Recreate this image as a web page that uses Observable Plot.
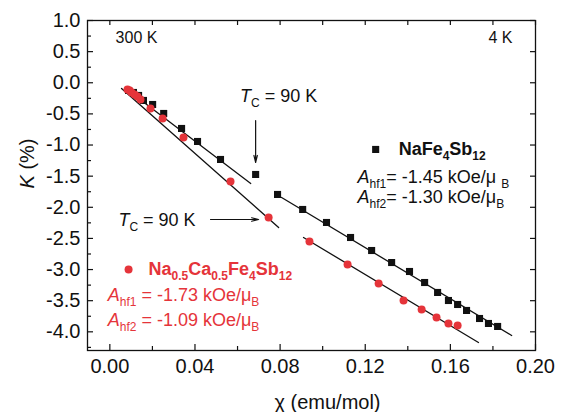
<!DOCTYPE html>
<html><head><meta charset="utf-8">
<script src="https://cdn.jsdelivr.net/npm/d3@7"></script>
<script src="https://cdn.jsdelivr.net/npm/@observablehq/plot@0.6"></script>
<style>body{margin:0;background:#fff}</style>
</head><body><div id="chart"></div>
<script>
// NaFe4Sb12 (black squares)
const naChi = [0.0088,0.0111,0.0135,0.0158,0.0201,0.0253,0.0337,0.0412,0.0520,0.0685,0.0788,0.0906,0.1018,0.1131,0.1230,0.1324,0.1408,0.1479,0.1540,0.1591,0.1634,0.1676,0.1737,0.1779,0.1822];
const naK   = [-0.124,-0.156,-0.204,-0.284,-0.349,-0.493,-0.734,-0.943,-1.232,-1.473,-1.794,-2.035,-2.244,-2.485,-2.694,-2.887,-3.031,-3.208,-3.368,-3.497,-3.561,-3.657,-3.786,-3.866,-3.914];
// Na0.5Ca0.5Fe4Sb12 (red circles)
const ncChi = [0.0083,0.0093,0.0102,0.0116,0.0130,0.0144,0.0191,0.0248,0.0346,0.0567,0.0746,0.0938,0.1117,0.1263,0.1380,0.1465,0.1535,0.1591,0.1634];
const ncK   = [-0.109,-0.125,-0.156,-0.188,-0.220,-0.269,-0.413,-0.574,-0.880,-1.585,-2.164,-2.549,-2.919,-3.224,-3.497,-3.642,-3.770,-3.866,-3.898];
// linear fits (end points)
const fitGroup = ["na1","na1","nc1","nc1","na2","na2","nc2","nc2"];
const fitChi   = [0.0074,0.0662, 0.0055,0.0793, 0.0807,0.1888, 0.0910,0.1732];
const fitK     = [-0.091,-1.617, -0.091,-2.324, -1.842,-4.059, -2.485,-4.171];
// ticks
const xMajor = [0,0.04,0.08,0.12,0.16,0.20];
const xMinor = [0.02,0.06,0.10,0.14,0.18];
const xTop = [0,0.02,0.04,0.06,0.08,0.10,0.12,0.14,0.16,0.18,0.20];
const yMajor = [1.0,0.5,0.0,-0.5,-1.0,-1.5,-2.0,-2.5,-3.0,-3.5,-4.0];
const yMinor = [0.75,0.25,-0.25,-0.75,-1.25,-1.75,-2.25,-2.75,-3.25,-3.75,-4.25];

const RED = "#e5343a";
const na = naChi.map((x,i)=>({x, k: naK[i]}));
const nc = ncChi.map((x,i)=>({x, k: ncK[i]}));
const fits = fitChi.map((x,i)=>({x, k: fitK[i], g: fitGroup[i]}));

const W=565,H=412,ML=87,MR=30,MT=20,MB=62;
const PW=W-ML-MR, PH=H-MT-MB;
const T = d=>d;

const chart = Plot.plot({
  width: W, height: H,
  marginLeft: ML, marginRight: MR, marginTop: MT, marginBottom: MB,
  style: {fontFamily: "'Liberation Sans', Arial, sans-serif", background: "#fff", color: "#111"},
  x: {domain: [-0.0105, 0.2]},
  y: {domain: [-4.3, 1.0]},
  marks: [
    Plot.axisX({ticks: xMajor, tickFormat: d=>d.toFixed(2), tickSize: 0, tickPadding: 8, fontSize: 20, label: null}),
    Plot.axisY({ticks: yMajor, tickFormat: d=>d.toFixed(1), tickSize: 0, tickPadding: 7, fontSize: 20, label: null}),
    // tick marks (inward)
    Plot.tickX(xMajor, {x: T, insetTop: PH-6, strokeWidth: 1.2}),
    Plot.tickX(xMinor, {x: T, insetTop: PH-4, strokeWidth: 1.2}),
    Plot.tickX(xTop, {x: T, insetBottom: PH-5, strokeWidth: 1.2}),
    Plot.tickY(yMajor, {y: T, insetRight: PW-6, strokeWidth: 1.2}),
    Plot.tickY(yMinor, {y: T, insetRight: PW-4, strokeWidth: 1.2}),
    Plot.tickY(yMajor, {y: T, insetLeft: PW-5, strokeWidth: 1.2}),
    Plot.frame({stroke: "#111", strokeWidth: 1.3}),
    // fit lines
    Plot.line(fits, {x: "x", y: "k", z: "g", stroke: "#111", strokeWidth: 1.3}),
    // data
    Plot.dot(na, {x: "x", y: "k", symbol: "square", r: 4, fill: "#111"}),
    Plot.dot(nc, {x: "x", y: "k", symbol: "circle", r: 4, fill: RED}),
    // axis titles
    Plot.text(["χ (emu/mol)"], {text: T, frameAnchor: "bottom", dx: 16, dy: 52, lineAnchor: "middle", fontSize: 20}),
    Plot.text(["*K* (%)"], {text: T, frameAnchor: "left", dx: -60, dy: 3, rotate: -90, lineAnchor: "middle", fontSize: 20}),
    // temperature labels
    Plot.text(["300 K"], {text: T, x: 0.0027, y: 0.72, textAnchor: "start", fontSize: 16}),
    Plot.text(["4 K"], {text: T, x: 0.1892, y: 0.72, textAnchor: "end", fontSize: 16}),
    // Tc annotations
    Plot.text(["*T*_{C} = 90 K"], {text: T, x: 0.0793, y: -0.22, textAnchor: "middle", fontSize: 18}),
    Plot.text(["*T*_{C} = 90 K"], {text: T, x: 0.0403, y: -2.20, textAnchor: "end", fontSize: 18}),
    Plot.arrow([0], {x1: 0.0685, y1: -0.606, x2: 0.0685, y2: -1.28, stroke: "#111", strokeWidth: 1.2, headLength: 9, headAngle: 28}),
    Plot.arrow([0], {x1: 0.0473, y1: -2.196, x2: 0.0699, y2: -2.196, stroke: "#111", strokeWidth: 1.2, headLength: 9, headAngle: 28}),
    // legend NaFe4Sb12
    Plot.dot([0], {x: 0.1249, y: -1.071, symbol: "square", r: 4, fill: "#111"}),
    Plot.text(["NaFe_{4}Sb_{12}"], {text: T, x: 0.1357, y: -1.071, textAnchor: "start", fontSize: 18, fontWeight: "bold"}),
    Plot.text(["*A*_{hf1}= -1.45 kOe/μ _{B}"], {text: T, x: 0.1164, y: -1.521, textAnchor: "start", fontSize: 18}),
    Plot.text(["*A*_{hf2}= -1.30 kOe/μ_{B}"], {text: T, x: 0.1164, y: -1.842, textAnchor: "start", fontSize: 18}),
    // legend Na0.5Ca0.5Fe4Sb12
    Plot.dot([0], {x: 0.0088, y: -2.999, symbol: "circle", r: 4, fill: RED}),
    Plot.text(["Na_{0.5}Ca_{0.5}Fe_{4}Sb_{12}"], {text: T, x: 0.0182, y: -2.999, textAnchor: "start", fontSize: 18, fontWeight: "bold", fill: RED}),
    Plot.text(["*A*_{hf1} = -1.73 kOe/μ_{B}"], {text: T, x: -0.0010, y: -3.416, textAnchor: "start", fontSize: 18, fill: RED}),
    Plot.text(["*A*_{hf2} = -1.09 kOe/μ_{B}"], {text: T, x: -0.0010, y: -3.815, textAnchor: "start", fontSize: 18, fill: RED})
  ]
});

// rich text: *italic* and _{subscript}
const NS = "http://www.w3.org/2000/svg";
chart.querySelectorAll("text").forEach(t => {
  const s = t.textContent;
  if (!/\*|_\{/.test(s)) return;
  let fs = parseFloat(t.getAttribute("font-size")) || parseFloat(t.parentNode.getAttribute("font-size")) || 18;
  const subFs = Math.round(fs * 0.67), shift = Math.round(fs * 0.3);
  t.textContent = "";
  const re = /\*([^*]+)\*|_\{([^}]*)\}|([^*_]+)/g;
  let m, down = false;
  while ((m = re.exec(s))) {
    const ts = document.createElementNS(NS, "tspan");
    if (m[2] !== undefined) {
      ts.textContent = m[2];
      ts.setAttribute("font-size", subFs);
      if (!down) { ts.setAttribute("dy", shift); down = true; }
    } else {
      ts.textContent = m[1] !== undefined ? m[1] : m[3];
      if (m[1] !== undefined) ts.setAttribute("font-style", "italic");
      if (down) { ts.setAttribute("dy", -shift); down = false; }
    }
    t.appendChild(ts);
  }
});
document.getElementById("chart").appendChild(chart);
</script>
</body></html>
